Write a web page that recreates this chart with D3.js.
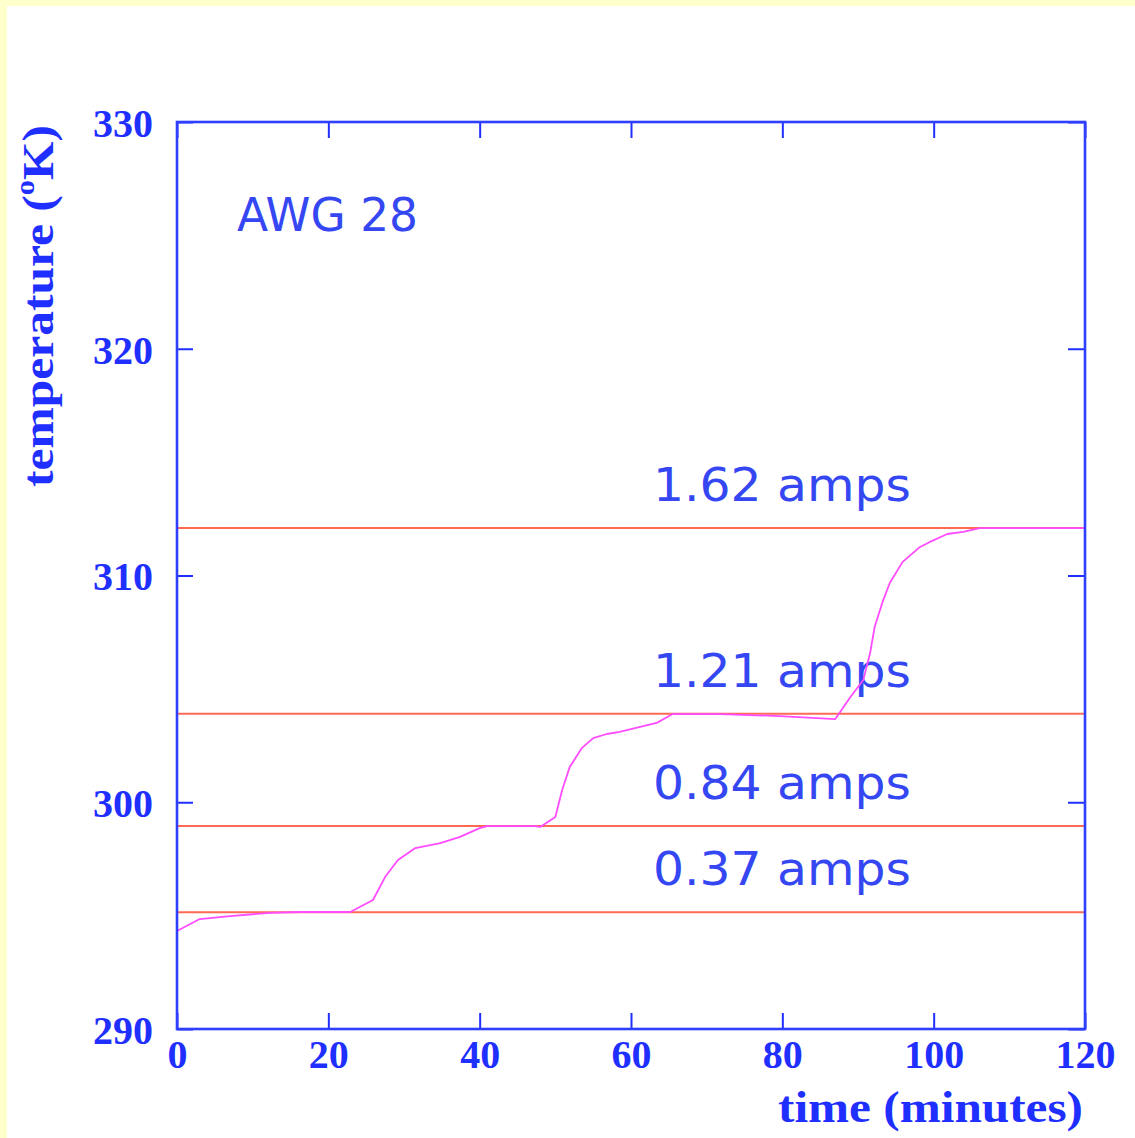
<!DOCTYPE html>
<html>
<head>
<meta charset="utf-8">
<script src="https://cdn.jsdelivr.net/npm/d3@7"></script>
<style>
  html, body { margin: 0; padding: 0; background: #ffffcc; }
  svg { display: block; }
</style>
</head>
<body>
<script>
// Heating curve of AWG 28 wire at successive currents
const timeMin = [0, 3.0, 7.0, 12.3, 16.3, 22.9, 25.9, 27.5, 29.2, 31.5, 34.8, 37.4, 40.0, 41.0,
  47.3, 48.0, 50.0, 50.9, 51.9, 53.5, 55.0, 56.8, 58.5, 61.2, 63.4, 64.8, 65.5, 71.8, 79.7,
  87.0, 89.0, 90.7, 91.6, 92.2, 93.2, 94.2, 95.9, 98.2, 99.5, 101.8, 103.9, 106.1, 120];
const tempK = [294.32, 294.85, 294.98, 295.12, 295.16, 295.16, 295.69, 296.70, 297.45, 297.98,
  298.20, 298.47, 298.86, 298.95, 298.95, 298.91, 299.35, 300.54, 301.55, 302.39, 302.83,
  303.01, 303.10, 303.32, 303.50, 303.76, 303.89, 303.89, 303.80, 303.67, 304.64, 305.39,
  306.58, 307.73, 308.79, 309.67, 310.60, 311.26, 311.48, 311.83, 311.92, 312.09, 312.09];

// Steady-state temperature for each current
const currentLabels = ["1.62 amps", "1.21 amps", "0.84 amps", "0.37 amps"];
const steadyTemps = [312.1, 303.9, 298.95, 295.15];

const xTicks = [0, 20, 40, 60, 80, 100, 120];
const yTicks = [290, 300, 310, 320, 330];

const W = 1135, H = 1138;
const margin = { left: 177, top: 122, right: 1135 - 1085, bottom: 1138 - 1029 };

const svg = d3.select("body").append("svg").attr("width", W).attr("height", H);

// pale border strip, white page
svg.append("rect").attr("x", 0).attr("y", 0).attr("width", W).attr("height", H).attr("fill", "#ffffcc");
svg.append("rect").attr("x", 7).attr("y", 6).attr("width", W - 7).attr("height", H - 6).attr("fill", "#ffffff");

const x = d3.scaleLinear().domain([0, 120]).range([margin.left, W - margin.right]);
const y = d3.scaleLinear().domain([290, 330]).range([H - margin.bottom, margin.top]);

const axisBlue = "#1f2fff";
const tickFont = "'Liberation Serif', 'Times New Roman', serif";
const noteFont = "'DejaVu Sans', 'Liberation Sans', sans-serif";

// labels above each steady-state line
svg.append("g").selectAll("text").data(currentLabels).join("text")
  .attr("x", x(62.9))
  .attr("y", (d, i) => y(steadyTemps[i]) - 27)
  .attr("textLength", 258)
  .attr("lengthAdjust", "spacingAndGlyphs")
  .attr("font-family", noteFont)
  .attr("font-size", 46)
  .attr("fill", "#3447f2")
  .text(d => d);

svg.append("text")
  .attr("x", 237).attr("y", 231)
  .attr("textLength", 181)
  .attr("lengthAdjust", "spacingAndGlyphs")
  .attr("font-family", noteFont)
  .attr("font-size", 47)
  .attr("fill", "#3447f2")
  .text("AWG 28");

// steady-state lines
svg.append("g").selectAll("line").data(steadyTemps).join("line")
  .attr("x1", x(0)).attr("x2", x(120))
  .attr("y1", d => y(d)).attr("y2", d => y(d))
  .attr("stroke", "#ff6a55").attr("stroke-width", 2);

// temperature trace
const pts = timeMin.map((t, i) => [t, tempK[i]]);
svg.append("path")
  .datum(pts)
  .attr("fill", "none")
  .attr("stroke", "#ff4cff")
  .attr("stroke-width", 1.8)
  .attr("stroke-linejoin", "round")
  .attr("d", d3.line().x(d => x(d[0])).y(d => y(d[1])));

// axes with inward ticks on all four sides
function styleAxis(g) {
  g.select(".domain").remove();
  g.selectAll(".tick line").attr("stroke", axisBlue).attr("stroke-width", 2);
  g.selectAll(".tick text")
    .attr("fill", axisBlue)
    .attr("font-family", tickFont)
    .attr("font-weight", "bold")
    .attr("font-size", 40);
}

svg.append("g").attr("transform", `translate(0,${y(290)})`)
  .call(d3.axisBottom(x).tickValues(xTicks).tickSize(-16).tickPadding(11).tickFormat(d3.format("d")))
  .call(styleAxis);
svg.append("g").attr("transform", `translate(0,${y(330)})`)
  .call(d3.axisTop(x).tickValues(xTicks).tickSize(-16).tickFormat(""))
  .call(styleAxis);
svg.append("g").attr("transform", `translate(${x(0)},0)`)
  .call(d3.axisLeft(y).tickValues(yTicks).tickSize(-16).tickPadding(24).tickFormat(d3.format("d")))
  .call(styleAxis)
  .call(g => g.selectAll(".tick text").attr("dy", "0.36em"));
svg.append("g").attr("transform", `translate(${x(120)},0)`)
  .call(d3.axisRight(y).tickValues(yTicks).tickSize(-17).tickFormat(""))
  .call(styleAxis);

// plot frame
svg.append("rect")
  .attr("x", x(0)).attr("y", y(330))
  .attr("width", x(120) - x(0)).attr("height", y(290) - y(330))
  .attr("fill", "none").attr("stroke", "#2f3fff").attr("stroke-width", 2.6);

// axis titles
svg.append("text")
  .attr("x", 1083).attr("y", 1122)
  .attr("text-anchor", "end")
  .attr("textLength", 305)
  .attr("lengthAdjust", "spacingAndGlyphs")
  .attr("font-family", tickFont).attr("font-weight", "bold").attr("font-size", 44)
  .attr("fill", axisBlue)
  .text("time (minutes)");

const yt = svg.append("text")
  .attr("transform", "translate(53,306) rotate(-90)")
  .attr("text-anchor", "middle")
  .attr("textLength", 362)
  .attr("lengthAdjust", "spacingAndGlyphs")
  .attr("font-family", tickFont).attr("font-weight", "bold").attr("font-size", 44)
  .attr("fill", axisBlue);
yt.append("tspan").text("temperature (");
yt.append("tspan").attr("font-size", 27).attr("dy", -19).text("o");
yt.append("tspan").attr("dy", 19).text("K)");
</script>
</body>
</html>
